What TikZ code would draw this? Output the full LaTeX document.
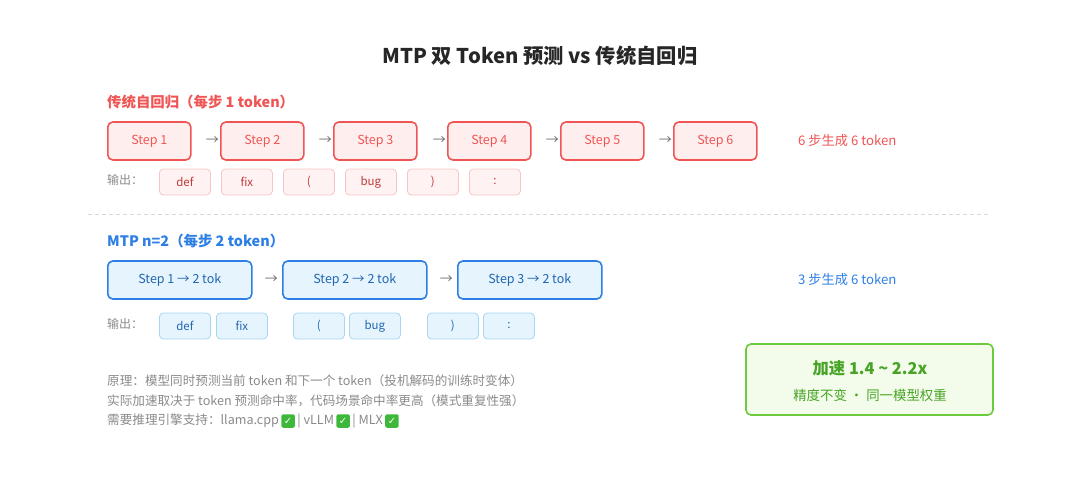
\documentclass[tikz,border=0pt]{standalone}
\usepackage{fontspec}
\setmainfont{Noto Sans CJK SC}
\newfontfamily\symf{DejaVu Sans}
\definecolor{rd}{HTML}{F05555}
\definecolor{rdf}{HTML}{FFEEEE}
\definecolor{rdo}{HTML}{F8C4C4}
\definecolor{rdof}{HTML}{FFF2F2}
\definecolor{rdt}{HTML}{C03A3A}
\definecolor{bl}{HTML}{2D7FE6}
\definecolor{blf}{HTML}{E6F4FD}
\definecolor{blo}{HTML}{A6D6F2}
\definecolor{blt}{HTML}{2266B0}
\definecolor{gr}{HTML}{6CCB3C}
\definecolor{grf}{HTML}{F3FCEA}
\definecolor{grt}{HTML}{47A426}
\definecolor{gy}{HTML}{8A8A8A}
\definecolor{ck}{HTML}{3DB83A}
\begin{document}
\begin{tikzpicture}[x=1pt,y=-1pt,
 rstep/.style={draw=rd,fill=rdf,line width=1.6pt,rounded corners=5pt,text=rd,font=\fontsize{12.5}{14}\selectfont,inner sep=0pt},
 bstep/.style={draw=bl,fill=blf,line width=1.6pt,rounded corners=5pt,text=blt,font=\fontsize{12.5}{14}\selectfont,inner sep=0pt},
 rout/.style={draw=rdo,fill=rdof,line width=0.8pt,rounded corners=4pt,text=rdt,font=\fontsize{11.5}{13}\selectfont,minimum width=51pt,minimum height=26pt,inner sep=0pt},
 bout/.style={draw=blo,fill=blf,line width=0.8pt,rounded corners=4pt,text=blt,font=\fontsize{11.5}{13}\selectfont,minimum width=51pt,minimum height=26pt,inner sep=0pt},
 arr/.style={font=\fontsize{13}{14}\selectfont,text=gy!80!black},
 note/.style={anchor=west,text=gy,font=\fontsize{12.6}{14}\selectfont,inner sep=0pt},
 chk/.style={fill=ck,rounded corners=2pt,text=white,font=\symf\bfseries\fontsize{10}{10}\selectfont,inner sep=1pt,minimum size=13.5pt}]
\useasboundingbox (0,0) rectangle (1080,482);
\node[font=\bfseries\fontsize{20.3}{22}\selectfont,text=black!85] (title) at (540,56) {MTP 双 Token 预测 vs 传统自回归};
\node[anchor=west,inner sep=0pt,text=rd,font=\bfseries\fontsize{14.4}{16}\selectfont] (rh) at (107,102) {传统自回归（每步 1 token）};
\foreach \i/\x in {1/107,2/220,3/333,4/447,5/560,6/673}{
 \node[rstep,minimum width=83pt,minimum height=38pt,anchor=west] (r\i) at (\x,141) {Step \i};}
\foreach \i in {2,...,6}{\node[arr,anchor=east,inner sep=1pt] (ra\i) at (r\i.west) {→};}
\node[anchor=west,inner sep=0pt,text=rd,font=\fontsize{13.2}{15}\selectfont] (rsum) at (798,141) {6 步生成 6 token};
\node[anchor=west,inner sep=0pt,text=gy,font=\fontsize{12}{13}\selectfont] (rol) at (107,180) {输出：};
\foreach \n/\t/\x in {1/def/159,2/fix/221,3/(/283,4/bug/345,5/)/407,6/:/469}{
 \node[rout,anchor=west] (ro\n) at (\x,182) {\t};}
\coordinate (d1) at (88,214); \coordinate (d2) at (990,214);
\draw[black!15,dashed,dash pattern=on 4pt off 3pt,line width=0.8pt] (d1) -- (d2);
\node[anchor=west,inner sep=0pt,text=bl,font=\bfseries\fontsize{14.4}{16}\selectfont] (bh) at (107,241) {MTP n=2（每步 2 token）};
\foreach \i/\x in {1/107,2/282,3/457}{
 \node[bstep,minimum width=144pt,minimum height=38pt,anchor=west] (b\i) at (\x,280) {Step \i{} → 2 tok};}
\foreach \i in {2,3}{\node[arr,anchor=east,inner sep=4pt] (ba\i) at (b\i.west) {→};}
\node[anchor=west,inner sep=0pt,text=bl,font=\fontsize{13.2}{15}\selectfont] (bsum) at (798,280) {3 步生成 6 token};
\node[anchor=west,inner sep=0pt,text=gy,font=\fontsize{12}{13}\selectfont] (bol) at (107,324) {输出：};
\foreach \n/\t/\x in {1/def/159,2/fix/216,3/(/293,4/bug/349,5/)/427,6/:/483}{
 \node[bout,anchor=west] (bo\n) at (\x,326) {\t};}
\node[note] (n1) at (107,381) {原理：模型同时预测当前 token 和下一个 token（投机解码的训练时变体）};
\node[note] (n2) at (107,401) {实际加速取决于 token 预测命中率，代码场景命中率更高（模式重复性强）};
\node[note] (n3) at (107,421) {需要推理引擎支持：llama.cpp};
\node[chk,anchor=west] (c1) at ([xshift=2pt]n3.east) {✓};
\node[note] (n4) at ([xshift=2pt]c1.east) {| vLLM};
\node[chk,anchor=west] (c2) at ([xshift=2pt]n4.east) {✓};
\node[note] (n5) at ([xshift=2pt]c2.east) {| MLX};
\node[chk,anchor=west] (c3) at ([xshift=2pt]n5.east) {✓};
\node[draw=gr,fill=grf,line width=1.6pt,rounded corners=5pt,minimum width=247pt,minimum height=71pt] (g) at (869.5,379.5) {};
\node[text=grt,font=\bfseries\fontsize{16.3}{18}\selectfont] (gt) at (870,368) {加速 1.4 \textasciitilde{} 2.2x};
\node[text=grt,font=\fontsize{13.4}{15}\selectfont] (gs) at (870,395) {精度不变 · 同一模型权重};
\end{tikzpicture}
\end{document}
